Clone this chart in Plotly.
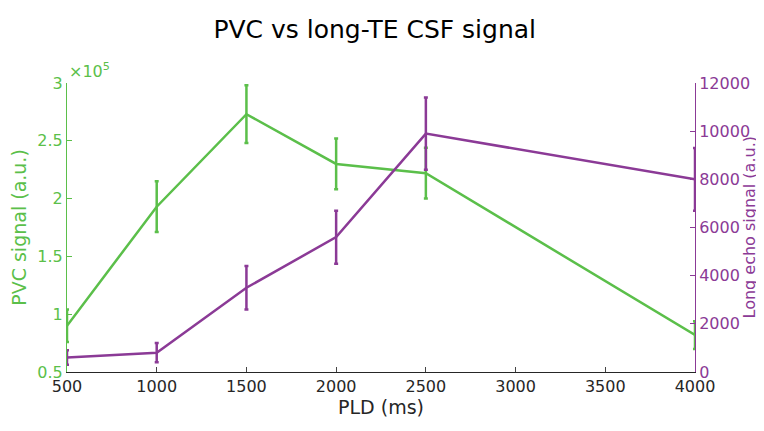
import plotly.graph_objects as go

pld = [500, 1000, 1500, 2000, 2500, 4000]
pvc = [0.90e5, 1.93e5, 2.73e5, 2.30e5, 2.22e5, 0.82e5]
pvc_err = [0.14e5, 0.22e5, 0.25e5, 0.22e5, 0.22e5, 0.12e5]
echo = [600, 800, 3500, 5600, 9900, 8000]
echo_err = [300, 400, 900, 1100, 1500, 1300]

green = "#5bbf4a"
purple = "#8b3a96"
font = "DejaVu Sans"

fig = go.Figure()
fig.add_trace(go.Scatter(x=pld, y=pvc, mode="lines", line=dict(color=green, width=2.5),
                         error_y=dict(array=pvc_err, color=green, thickness=2.5, width=2),
                         yaxis="y"))
fig.add_trace(go.Scatter(x=pld, y=echo, mode="lines", line=dict(color=purple, width=2.5),
                         error_y=dict(array=echo_err, color=purple, thickness=2.5, width=2),
                         yaxis="y2"))

lt = [0.5e5, 1e5, 1.5e5, 2e5, 2.5e5, 3e5]
rt = [0, 2000, 4000, 6000, 8000, 10000, 12000]
fig.update_layout(
    width=764, height=431, showlegend=False,
    plot_bgcolor="white", paper_bgcolor="white",
    margin=dict(l=59, r=77, t=75, b=67, autoexpand=False),
    font=dict(family=font, size=16, color="#262626"),
    title=dict(text="PVC vs long-TE CSF signal", x=0.48, xanchor="center",
               y=0.95, yanchor="middle", font=dict(size=25, color="black")),
    xaxis=dict(title=dict(text="PLD (ms)", standoff=4), range=[500, 4000],
               tickvals=[500, 1000, 1500, 2000, 2500, 3000, 3500, 4000],
               showgrid=False, zeroline=False, showline=True, linecolor="#262626",
               ticks="inside", ticklen=5),
    yaxis=dict(title=dict(text="PVC signal (a.u.)", font=dict(color=green), standoff=6),
               range=[0.5e5, 3e5], tickvals=lt,
               ticktext=["0.5", "1", "1.5", "2", "2.5", "3"],
               tickfont=dict(color=green), showgrid=False, zeroline=False,
               showline=True, linecolor=green, ticks="inside", tickcolor=green, ticklen=5),
    yaxis2=dict(range=[0, 12000], tickvals=rt, ticktext=[str(v) for v in rt],
                tickfont=dict(color=purple), overlaying="y", side="right",
                showgrid=False, zeroline=False, showline=True, linecolor=purple,
                ticks="inside", tickcolor=purple, ticklen=5),
    annotations=[
        dict(text="×10<sup>5</sup>", xref="paper", yref="paper", x=0.0, y=1.0,
             xanchor="left", yanchor="bottom", showarrow=False,
             font=dict(color=green, size=16)),
        dict(text="Long echo signal (a.u.)", xref="paper", yref="paper", x=1, xshift=54,
             y=0.5, textangle=-90, showarrow=False, xanchor="center", yanchor="middle",
             font=dict(color=purple, size=16)),
    ],
)
fig.write_html("out.html")
